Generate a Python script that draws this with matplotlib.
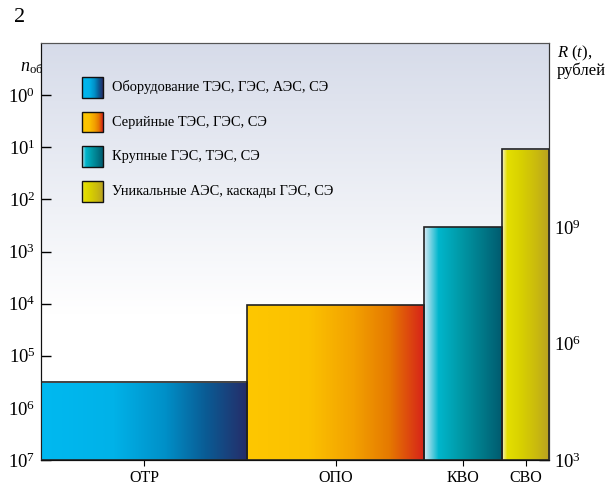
import numpy as np
import matplotlib
matplotlib.use("Agg")
import matplotlib.pyplot as plt
from matplotlib.colors import LinearSegmentedColormap

plt.rcParams['font.family'] = ['Liberation Serif', 'DejaVu Serif']
plt.rcParams['mathtext.fontset'] = 'custom'
plt.rcParams['mathtext.rm'] = 'Liberation Serif'
plt.rcParams['mathtext.it'] = 'Liberation Serif:italic'

# data
categories = ['ОТР', 'ОПО', 'КВО', 'СВО']
bar_widths = [206, 177, 78, 47]           # relative widths of the blocks
bar_values = [1e5, 1e7, 1e9, 1e11]        # R(t), рублей
legend_labels = ['Оборудование ТЭС, ГЭС, АЭС, СЭ',
                 'Серийные ТЭС, ГЭС, СЭ',
                 'Крупные ГЭС, ТЭС, СЭ',
                 'Уникальные АЭС, каскады ГЭС, СЭ']
n_ticks = [10.0**k for k in range(0, 8)]
r_ticks = [1e3, 1e6, 1e9]

gradients = [
    ['#00b9f0', '#00b2e8', '#0090c8', '#0a5b94', '#262c68'],
    ['#fec700', '#fbc100', '#f3a100', '#e67a00', '#d6221a'],
    ['#cfe8f4', '#00b6cc', '#009aa8', '#007888', '#005a6e'],
    ['#f3eeb8', '#e4df00', '#d8d000', '#c8b810', '#b9a122'],
]
gradient_stops = [
    [0.0, 0.35, 0.6, 0.8, 1.0],
    [0.0, 0.35, 0.6, 0.8, 1.0],
    [0.0, 0.18, 0.45, 0.75, 1.0],
    [0.0, 0.1, 0.4, 0.75, 1.0],
]
cmaps = [LinearSegmentedColormap.from_list('g%d' % i, list(zip(s, c)))
         for i, (s, c) in enumerate(zip(gradient_stops, gradients))]

fig = plt.figure(figsize=(6.07, 4.87), dpi=100)
ax = fig.add_axes([0.0675, 0.0554, 0.837, 0.8563])

# background gradient
t = np.linspace(0, 1, 256)
fade = np.clip((t - 0.35) / 0.65, 0, 1)
top = np.array([0.84, 0.86, 0.915])
bg = 1 - fade[:, None] * (1 - top[None, :])
ax.imshow(bg[:, None, :], extent=(0, 1, 0, 1), origin='lower',
          transform=ax.transAxes, aspect='auto', zorder=0)

edges = np.concatenate([[0], np.cumsum(bar_widths)])
centers = (edges[:-1] + edges[1:]) / 2
ax.set_xlim(edges[0], edges[-1])

ax.set_yscale('log')
ax.set_ylim(1e7, 1e-1)
ax.set_yticks(n_ticks)
ax.minorticks_off()
ax.tick_params(axis='y', which='major', direction='in', length=7,
               labelsize=13.5, width=1, pad=4)
ax.set_xticks(centers)
ax.set_xticklabels(categories, fontsize=11.5)
ax.tick_params(axis='x', direction='out', length=4, width=0.8)

axr = ax.twinx()
axr.set_yscale('log')
axr.set_ylim(1e3, 10**13.73)
axr.set_yticks(r_ticks)
axr.minorticks_off()
axr.tick_params(axis='y', direction='in', length=7, labelsize=13.5, width=1)
axr.set_xlim(edges[0], edges[-1])

bars = axr.bar(edges[:-1], np.array(bar_values) - 1e3, width=bar_widths,
               bottom=1e3, align='edge', facecolor='none',
               edgecolor='#222222', linewidth=1.2, zorder=3)
grad = np.linspace(0, 1, 256)[None, :]
for b, cm, x0, x1, h in zip(bars, cmaps, edges[:-1], edges[1:], bar_values):
    im = axr.imshow(grad, cmap=cm, extent=(x0, x1, 1e3, h), aspect='auto',
                    zorder=2, interpolation='bilinear')
    im.set_clip_path(b)
axr.set_xlim(edges[0], edges[-1])
axr.set_ylim(1e3, 10**13.73)

for a in (ax, axr):
    a.spines['top'].set_color('#555555')
    a.spines['right'].set_color('#333333')
    a.spines['left'].set_color('#111111')
    a.spines['bottom'].set_color('#111111')

# legend
for i, (label, cm) in enumerate(zip(legend_labels, cmaps)):
    yc = 0.894 - i * 0.0835
    box = plt.Rectangle((0.081, yc - 0.025), 0.041, 0.05,
                        transform=ax.transAxes, facecolor='none',
                        edgecolor='#111111', linewidth=1, zorder=5)
    ax.add_patch(box)
    im = ax.imshow(grad, cmap=cm, extent=(0.081, 0.122, yc - 0.025, yc + 0.025),
                   transform=ax.transAxes, aspect='auto', zorder=4)
    im.set_clip_path(box)
    ax.text(0.14, yc, label, transform=ax.transAxes, fontsize=10.4,
            va='center', ha='left', zorder=5)

fig.text(0.023, 0.965, '2', fontsize=16, va='center', ha='left')
fig.text(0.033, 0.862, r'$n_{\mathrm{об}}$', fontsize=13, va='center',
         ha='left')
fig.text(0.917, 0.91, '$R$ ($t$),\nрублей', fontsize=12, va='top',
         ha='left', linespacing=0.95)

fig.savefig('out.png', dpi=100)
